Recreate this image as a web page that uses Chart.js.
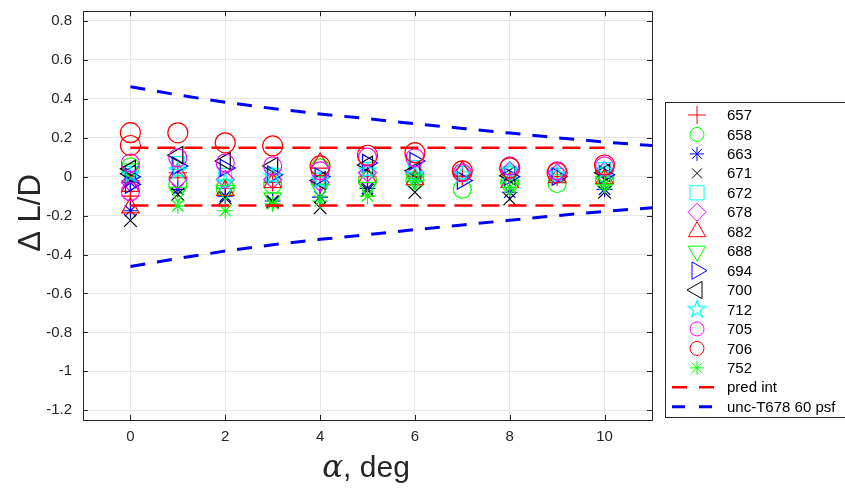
<!DOCTYPE html>
<html>
<head>
<meta charset="utf-8">
<script src="https://cdn.jsdelivr.net/npm/chart.js@4.4.1/dist/chart.umd.min.js"></script>
<style>
    html, body { margin: 0; padding: 0; background: #fff; }
    #wrap { width: 845px; height: 491px; }
</style>
</head>
<body>
<div id="wrap"><canvas id="ldChart" width="845" height="491"></canvas></div>
<script>
// angle of attack for each point (second 0 is the repeat point)
var alpha = [0, 0, 1, 2, 3, 4, 5, 6, 7, 8, 9, 10];

// delta L/D per run
var run657 = [-0.02, -0.10, 0.02, -0.06, -0.03, -0.04, 0.0, 0.0, 0.0, -0.02, 0.0, 0.0];
var run658 = [0.05, null, -0.04, -0.06, -0.04, 0.045, -0.02, -0.02, -0.065, -0.03, -0.035, -0.02];
var run663 = [-0.03, -0.175, -0.065, -0.10, -0.125, -0.105, -0.06, -0.02, null, -0.08, null, -0.065];
var run671 = [0.0, -0.225, -0.09, -0.11, -0.13, -0.16, -0.07, -0.08, null, -0.115, null, -0.08];
var run672 = [0.02, null, 0.07, 0.01, 0.01, -0.015, 0.04, 0.05, 0.02, 0.02, 0.01, 0.04];
var run678 = [-0.03, null, -0.015, -0.015, -0.015, -0.03, 0.02, 0.02, 0.02, 0.03, 0.02, 0.03];
var run682 = [-0.05, -0.16, 0.02, -0.07, -0.03, 0.07, -0.005, -0.015, 0.03, -0.03, -0.005, -0.01];
var run688 = [0.04, null, -0.08, -0.07, -0.11, -0.065, -0.055, -0.015, null, -0.045, null, -0.03];
var run694 = [0.0, -0.04, 0.055, 0.045, 0.01, 0.0, 0.07, 0.08, -0.02, 0.0, 0.0, 0.01];
var run700 = [0.04, 0.015, 0.11, 0.08, 0.055, -0.02, 0.06, 0.03, null, 0.005, null, 0.02];
var run712 = [0.01, null, 0.03, -0.03, 0.0, -0.02, 0.03, 0.01, 0.01, 0.03, 0.01, 0.03];
var run705 = [0.07, -0.077, 0.097, 0.07, 0.055, 0.03, 0.10, 0.097, 0.02, 0.055, 0.03, 0.055];
var run706 = [0.226, 0.16, 0.225, 0.174, 0.158, 0.055, 0.11, 0.123, 0.03, 0.045, 0.02, 0.06];
var run752 = [null, null, -0.15, -0.175, -0.14, -0.125, -0.10, -0.02, null, -0.055, null, -0.04];

// prediction interval
var predAlpha = [0, 10];
var predUpper = [0.148, 0.148];
var predLower = [-0.148, -0.148];

// uncertainty band, T678 at 60 psf
var uncAlpha = [0, 1, 2, 3, 4, 5, 6, 7, 8, 9, 10, 11];
var uncUpper = [0.462, 0.42, 0.382, 0.35, 0.322, 0.298, 0.272, 0.248, 0.224, 0.2, 0.178, 0.16];
var uncLower = [-0.462, -0.42, -0.382, -0.35, -0.322, -0.298, -0.272, -0.248, -0.224, -0.2, -0.178, -0.16];

var xTicks = [0, 2, 4, 6, 8, 10];
var yTicks = [0.8, 0.6, 0.4, 0.2, 0, -0.2, -0.4, -0.6, -0.8, -1, -1.2];

var AX = '#262626';
var FONT = '"Liberation Sans", Arial, Helvetica, sans-serif';
var MARK_W = 1.2;

// five point star marker (no built-in pointStyle for it)
function makePentagram(r, color) {
    var c = document.createElement('canvas');
    var s = Math.ceil(2 * r + 4);
    c.width = s;
    c.height = s;
    var g = c.getContext('2d');
    g.strokeStyle = color;
    g.lineWidth = MARK_W;
    g.beginPath();
    for (var k = 0; k < 10; k++) {
        var rr = (k % 2 === 0) ? r : r * 0.382;
        var a = -Math.PI / 2 + k * Math.PI / 5;
        var px = s / 2 + rr * Math.cos(a);
        var py = s / 2 + rr * Math.sin(a);
        if (k === 0) g.moveTo(px, py); else g.lineTo(px, py);
    }
    g.closePath();
    g.stroke();
    return c;
}

var pentagram = makePentagram(9, '#00ffff');

var runs = [
    { label: '657', values: run657, color: '#ff0000', style: 'cross', rot: 0, r: 9, lr: 9 },
    { label: '658', values: run658, color: '#00ff00', style: 'circle', rot: 0, r: 9, lr: 7 },
    { label: '663', values: run663, color: '#0000ff', style: 'star', rot: 0, r: 8, lr: 7 },
    { label: '671', values: run671, color: '#000000', style: 'crossRot', rot: 0, r: 9, lr: 7 },
    { label: '672', values: run672, color: '#00ffff', style: 'rect', rot: 0, r: 9, lr: 10 },
    { label: '678', values: run678, color: '#ff00ff', style: 'rectRot', rot: 0, r: 9, lr: 9 },
    { label: '682', values: run682, color: '#ff0000', style: 'triangle', rot: 0, r: 10, lr: 10 },
    { label: '688', values: run688, color: '#00ff00', style: 'triangle', rot: 180, r: 10, lr: 10 },
    { label: '694', values: run694, color: '#0000ff', style: 'triangle', rot: 90, r: 10, lr: 10 },
    { label: '700', values: run700, color: '#000000', style: 'triangle', rot: 270, r: 10, lr: 10 },
    { label: '712', values: run712, color: '#00ffff', style: pentagram, rot: 0, r: 9, lr: 9 },
    { label: '705', values: run705, color: '#ff00ff', style: 'circle', rot: 0, r: 9, lr: 7 },
    { label: '706', values: run706, color: '#ff0000', style: 'circle', rot: 0, r: 10, lr: 7 },
    { label: '752', values: run752, color: '#00ff00', style: 'star', rot: 0, r: 8, lr: 7 }
];

function toPoints(xs, ys) {
    var pts = [];
    for (var i = 0; i < xs.length; i++) {
        if (ys[i] !== null) pts.push({ x: xs[i], y: ys[i] });
    }
    return pts;
}

var datasets = runs.map(function(run, i) {
    return {
        type: 'scatter',
        label: run.label,
        data: toPoints(alpha, run.values),
        pointStyle: run.style,
        pointRotation: run.rot,
        pointRadius: run.r,
        pointBorderWidth: MARK_W,
        pointBorderColor: run.color,
        pointBackgroundColor: 'rgba(0,0,0,0)',
        borderColor: run.color,
        showLine: false,
        order: runs.length + 4 - i
    };
});

function bandLine(label, xs, ys, color, width, dash) {
    return {
        type: 'line',
        label: label,
        data: toPoints(xs, ys),
        borderColor: color,
        borderWidth: width,
        borderDash: dash,
        pointRadius: 0,
        fill: false,
        tension: 0,
        order: 0
    };
}

datasets.push(bandLine('pred int', predAlpha, predUpper, '#ff0000', 2.5, [18, 9]));
datasets.push(bandLine('pred int', predAlpha, predLower, '#ff0000', 2.5, [18, 9]));
datasets.push(bandLine('unc-T678 60 psf', uncAlpha, uncUpper, '#0000ff', 3, [15, 12]));
datasets.push(bandLine('unc-T678 60 psf', uncAlpha, uncLower, '#0000ff', 3, [15, 12]));

// no extra room for tick labels beyond the plot box
function noPadding(scale) {
    scale.paddingTop = 0;
    scale.paddingBottom = 0;
    scale.paddingLeft = 0;
    scale.paddingRight = 0;
    scale.getPadding = function() {
        return { left: 0, top: 0, right: 0, bottom: 0 };
    };
}

// axis box, inward ticks, axis titles and legend
var decorations = {
    id: 'decorations',
    afterDatasetsDraw: function(chart) {
        var ctx = chart.ctx;
        var a = chart.chartArea;
        var xs = chart.scales.x, ys = chart.scales.y;
        ctx.save();
        ctx.strokeStyle = AX;
        ctx.lineWidth = 1;
        ctx.beginPath();
        xTicks.forEach(function(v) {
            var px = Math.round(xs.getPixelForValue(v)) + 0.5;
            ctx.moveTo(px, a.bottom); ctx.lineTo(px, a.bottom - 5);
            ctx.moveTo(px, a.top); ctx.lineTo(px, a.top + 5);
        });
        yTicks.forEach(function(v) {
            var py = Math.round(ys.getPixelForValue(v)) + 0.5;
            ctx.moveTo(a.left, py); ctx.lineTo(a.left + 5, py);
            ctx.moveTo(a.right, py); ctx.lineTo(a.right - 5, py);
        });
        ctx.stroke();
        ctx.strokeRect(Math.round(a.left) + 0.5, Math.round(a.top) + 0.5,
            Math.round(a.right - a.left), Math.round(a.bottom - a.top));
        ctx.restore();
    },
    afterDraw: function(chart) {
        var ctx = chart.ctx;
        ctx.save();

        // y title
        ctx.fillStyle = AX;
        ctx.font = '31px ' + FONT;
        ctx.textAlign = 'center';
        ctx.textBaseline = 'middle';
        ctx.translate(31, 213);
        ctx.rotate(-Math.PI / 2);
        ctx.fillText('\u0394 L/D', 0, 0);
        ctx.setTransform(1, 0, 0, 1, 0, 0);

        // x title: italic alpha then ", deg"
        var greek = 'italic 31px "DejaVu Serif", "Liberation Serif", serif';
        var plain = '30px ' + FONT;
        ctx.font = greek;
        var wa = ctx.measureText('\u03b1').width;
        ctx.font = plain;
        var wd = ctx.measureText(', deg').width;
        var x0 = 366 - (wa + wd) / 2;
        ctx.textAlign = 'left';
        ctx.textBaseline = 'alphabetic';
        ctx.font = greek;
        ctx.fillText('\u03b1', x0, 477);
        ctx.font = plain;
        ctx.fillText(', deg', x0 + wa, 477);

        // legend
        var bx = 665.5, by = 102.5, bw = 200, bh = 315;
        ctx.fillStyle = '#ffffff';
        ctx.fillRect(bx, by, bw, bh);
        ctx.strokeStyle = AX;
        ctx.lineWidth = 1;
        ctx.strokeRect(bx, by, bw, bh);

        var rowY = 115, dy = 19.45, mx = 697, tx = 727;
        ctx.font = '15px ' + FONT;
        ctx.textBaseline = 'middle';
        runs.forEach(function(run, i) {
            var y = rowY + i * dy;
            ctx.strokeStyle = run.color;
            ctx.fillStyle = 'rgba(0,0,0,0)';
            Chart.helpers.drawPoint(ctx, {
                pointStyle: run.style,
                radius: run.lr,
                rotation: run.rot,
                borderWidth: MARK_W
            }, mx, y);
            ctx.fillStyle = '#000000';
            ctx.fillText(run.label, tx, y + 1);
        });
        var lines = [
            { label: 'pred int', color: '#ff0000', width: 2.5, dash: [15, 12] },
            { label: 'unc-T678 60 psf', color: '#0000ff', width: 3, dash: [13, 14] }
        ];
        lines.forEach(function(ln, j) {
            var y = rowY + (runs.length + j) * dy;
            ctx.save();
            ctx.strokeStyle = ln.color;
            ctx.lineWidth = ln.width;
            ctx.setLineDash(ln.dash);
            ctx.beginPath();
            ctx.moveTo(672, y);
            ctx.lineTo(714, y);
            ctx.stroke();
            ctx.restore();
            ctx.fillStyle = '#000000';
            ctx.fillText(ln.label, tx, y + 1);
        });
        ctx.restore();
    }
};

var ctx = document.getElementById('ldChart').getContext('2d');
new Chart(ctx, {
    type: 'scatter',
    data: { datasets: datasets },
    options: {
        responsive: false,
        animation: false,
        layout: { padding: { left: 0, top: 8, right: 193, bottom: 0 } },
        plugins: {
            legend: { display: false },
            tooltip: { enabled: false }
        },
        scales: {
            x: {
                type: 'linear',
                min: -1,
                max: 11,
                afterBuildTicks: function(scale) {
                    scale.ticks = xTicks.map(function(v) { return { value: v }; });
                },
                afterFit: function(scale) {
                    scale.height = 71;
                    noPadding(scale);
                },
                grid: { color: '#e6e6e6', drawTicks: false },
                border: { display: false },
                ticks: {
                    padding: 8,
                    color: AX,
                    font: { family: FONT, size: 15 },
                    maxRotation: 0,
                    callback: function(v) { return String(v); }
                }
            },
            y: {
                type: 'linear',
                min: -1.25,
                max: 0.85,
                afterBuildTicks: function(scale) {
                    scale.ticks = yTicks.map(function(v) { return { value: v }; });
                },
                afterFit: function(scale) {
                    scale.width = 83;
                    noPadding(scale);
                },
                grid: { color: '#e6e6e6', drawTicks: false },
                border: { display: false },
                ticks: {
                    padding: 11,
                    color: AX,
                    font: { family: FONT, size: 15 },
                    callback: function(v) { return String(Math.round(v * 10) / 10); }
                }
            }
        }
    },
    plugins: [decorations]
});
</script>
</body>
</html>
